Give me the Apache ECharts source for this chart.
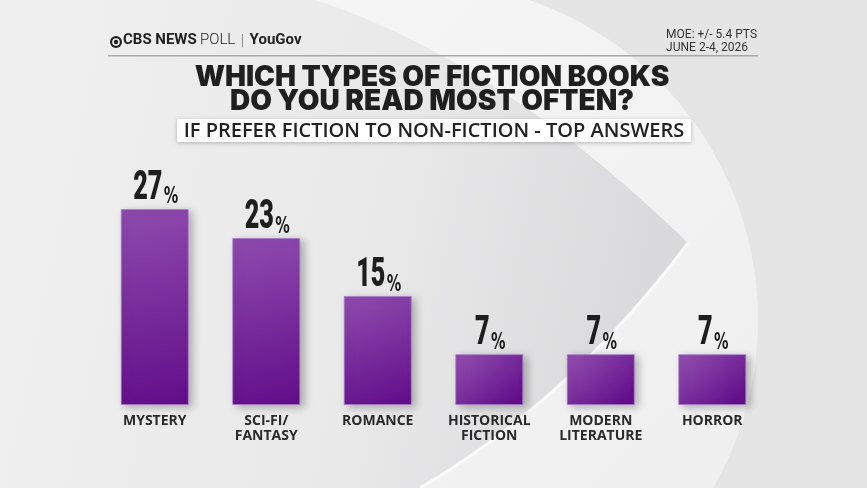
<!DOCTYPE html>
<html>
<head>
<meta charset="utf-8">
<script src="https://cdn.jsdelivr.net/npm/echarts@6/dist/echarts.min.js"></script>
<style>
html,body{margin:0;padding:0;background:#e6e6e7;}
#chart{width:867px;height:488px;}
</style>
</head>
<body>
<div id="chart"></div>
<script>
const categories = ['MYSTERY', 'SCI-FI/\nFANTASY', 'ROMANCE', 'HISTORICAL\nFICTION', 'MODERN\nLITERATURE', 'HORROR'];
const values = [27, 23, 15, 7, 7, 7];
const titleLines = ['WHICH TYPES OF FICTION BOOKS', 'DO YOU READ MOST OFTEN?'];
const subtitle = 'IF PREFER FICTION TO NON-FICTION - TOP ANSWERS';
const moeText = 'MOE: +/- 5.4 PTS';
const dateText = 'JUNE 2-4, 2026';

// decorative background shapes
function quad(p0, c, p1, n) {
  const pts = [];
  for (let i = 0; i <= n; i++) {
    const t = i / n;
    pts.push([
      (1 - t) * (1 - t) * p0[0] + 2 * (1 - t) * t * c[0] + t * t * p1[0],
      (1 - t) * (1 - t) * p0[1] + 2 * (1 - t) * t * c[1] + t * t * p1[1]
    ]);
  }
  return pts;
}
const upper = quad([315, 0], [500, 60], [688, 243], 30);
const lower = quad([688, 243], [570, 400], [420, 488], 30);
const leftPoly = [[0, 0]].concat(upper, lower.slice(1), [[0, 488]]);

const chart = echarts.init(document.getElementById('chart'), null, {renderer: 'canvas'});
const option = {
  backgroundColor: '#e5e5e6',
  animation: false,
  graphic: [
    {type: 'circle', z: -10, silent: true, shape: {cx: 420, cy: 320, r: 338},
      style: {fill: new echarts.graphic.LinearGradient(0, 0, 1, 1, [{offset: 0, color: '#f7f7f7'}, {offset: 1, color: '#eeeeef'}])}},
    {type: 'polygon', z: -9, silent: true, shape: {points: leftPoly},
      style: {fill: new echarts.graphic.LinearGradient(0, 0, 1, 0.3, [{offset: 0, color: '#f0f0f1'}, {offset: 0.6, color: '#e9e9ea'}, {offset: 1, color: '#d9d9db'}])}},
    {type: 'polyline', z: -8, silent: true, shape: {points: lower},
      style: {stroke: '#fbfbfb', lineWidth: 3, fill: null}},
    // header
    {type: 'circle', shape: {cx: 116, cy: 42, r: 6}, style: {fill: '#222'}},
    {type: 'circle', shape: {cx: 116, cy: 42, r: 3.8}, style: {fill: '#f0f0f0'}},
    {type: 'circle', shape: {cx: 116, cy: 42, r: 2.2}, style: {fill: '#222'}},
    {type: 'text', left: 123, top: 33,
      style: {text: '{b|CBS NEWS} {l|POLL}  {s|}  {y|YouGov}',
        rich: {
          b: {fontFamily: 'Roboto', fontWeight: 700, fontSize: 15, fill: '#222'},
          l: {fontFamily: 'Roboto', fontWeight: 300, fontSize: 15, fill: '#222'},
          s: {width: 1, height: 13, backgroundColor: '#888'},
          y: {fontFamily: 'Roboto', fontWeight: 700, fontSize: 15, fill: '#222'}
        }}},
    {type: 'text', right: 110, top: 29,
      style: {text: moeText + '\n' + dateText, align: 'right', fontFamily: 'Roboto', fontSize: 12, lineHeight: 12.5, fill: '#333'}},
    {type: 'rect', shape: {x: 108, y: 55, width: 650, height: 1.5}, style: {fill: '#a8a8a8'}},
    // title
    {type: 'text', x: 432, y: 66,
      style: {text: titleLines.join('\n'), align: 'center', verticalAlign: 'top', fontFamily: 'Inter', fontWeight: 900, fontSize: 28, lineHeight: 24, fill: '#1f1f1f'}},
    {type: 'rect', shape: {x: 177, y: 119, width: 514, height: 23},
      style: {fill: '#ffffff', shadowBlur: 4, shadowColor: 'rgba(0,0,0,0.25)', shadowOffsetY: 1}},
    {type: 'text', x: 434, y: 131,
      style: {text: subtitle, align: 'center', verticalAlign: 'middle', fontFamily: 'Open Sans', fontWeight: 600, fontSize: 20, fill: '#222'}}
  ],
  grid: {left: 99, right: 99, top: 209, bottom: 83, containLabel: false},
  xAxis: {
    type: 'category', data: categories,
    axisLine: {show: false}, axisTick: {show: false},
    axisLabel: {margin: 9, fontFamily: 'Open Sans', fontWeight: 700, fontSize: 14, lineHeight: 15, color: '#2a2a2a', interval: 0}
  },
  yAxis: {type: 'value', min: 0, max: 27, show: false, splitLine: {show: false}},
  series: [{
    type: 'bar', data: values, barWidth: 68,
    itemStyle: {
      color: new echarts.graphic.LinearGradient(0.2, 0, 0.8, 1, [{offset: 0, color: '#8e4aad'}, {offset: 1, color: '#620f8a'}]),
      borderColor: 'rgba(170,120,205,0.7)', borderWidth: 1,
      shadowColor: 'rgba(0,0,0,0.28)', shadowBlur: 8, shadowOffsetX: 4, shadowOffsetY: 2
    }
  }, {
    type: 'custom',
    data: values.map((v, i) => [i, v]),
    z: 5,
    renderItem: function (params, api) {
      const pt = api.coord([api.value(0), api.value(1)]);
      return {
        type: 'text',
        x: pt[0] + 1, y: pt[1],
        scaleX: 0.63,
        style: {
          text: '{n|' + api.value(1) + '}{p|%}',
          align: 'center', verticalAlign: 'bottom',
          rich: {
            n: {fontFamily: 'Roboto', fontWeight: 900, fontSize: 40, fill: '#1e1e1e', verticalAlign: 'bottom', lineHeight: 33},
            p: {fontFamily: 'DejaVu Sans', fontWeight: 700, fontSize: 23, fill: '#1e1e1e', verticalAlign: 'bottom', lineHeight: 32, padding: [0, 0, 0, 2]}
          }
        }
      };
    }
  }]
};
chart.setOption(option);
</script>
</body>
</html>
